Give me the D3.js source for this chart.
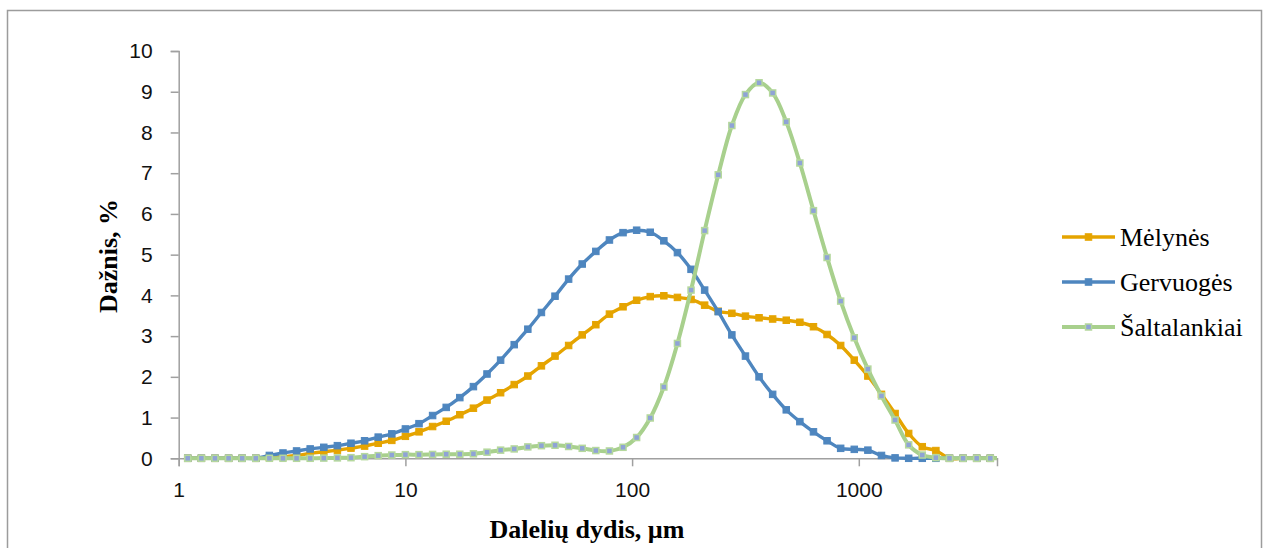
<!DOCTYPE html>
<html>
<head>
<meta charset="utf-8">
<script src="https://cdn.jsdelivr.net/npm/d3@7"></script>
<style>
  html, body { margin: 0; padding: 0; background: #fff; }
  svg { display: block; }
</style>
</head>
<body>
<svg id="chart" width="1269" height="548"></svg>
<script>
// Particle size classes (µm)
const sizes = [1.096, 1.259, 1.445, 1.660, 1.905, 2.188, 2.512, 2.884, 3.311, 3.802,
  4.365, 5.012, 5.754, 6.607, 7.586, 8.710, 10.000, 11.482, 13.183, 15.136,
  17.378, 19.953, 22.909, 26.303, 30.200, 34.674, 39.811, 45.709, 52.481, 60.256,
  69.183, 79.433, 91.201, 104.713, 120.226, 138.038, 158.489, 181.970, 208.930, 239.883,
  275.423, 316.228, 363.078, 416.869, 478.630, 549.541, 630.957, 724.436, 831.764, 954.993,
  1096.478, 1258.925, 1445.440, 1659.587, 1905.461, 2187.762, 2511.886, 2884.032, 3311.311, 3801.894,
  4365.158];

const melynes = [0, 0, 0, 0, 0, 0,
  0.02, 0.04, 0.07, 0.12, 0.16, 0.2, 0.25, 0.3, 0.37, 0.44,
  0.54, 0.65, 0.78, 0.91, 1.07, 1.23, 1.43, 1.61, 1.81, 2.02,
  2.27, 2.51, 2.77, 3.03, 3.28, 3.54, 3.72, 3.88, 3.97, 3.99,
  3.95, 3.90, 3.76, 3.61, 3.56, 3.49, 3.45, 3.42, 3.39, 3.34,
  3.23, 3.04, 2.77, 2.41, 2.02, 1.57, 1.10, 0.61, 0.285, 0.19,
  0, 0, 0, 0, 0];

const gervuoges = [0, 0, 0, 0, 0, 0,
  0.07, 0.13, 0.18, 0.23, 0.27, 0.31, 0.37, 0.43, 0.52, 0.6,
  0.72, 0.85, 1.05, 1.25, 1.49, 1.76, 2.07, 2.41, 2.79, 3.17,
  3.58, 3.98, 4.4, 4.77, 5.08, 5.36, 5.54, 5.60, 5.55, 5.34,
  5.05, 4.64, 4.13, 3.60, 3.03, 2.51, 2.00, 1.57, 1.19, 0.90,
  0.65, 0.43, 0.245, 0.22, 0.20, 0.07, 0.01, 0, 0, 0,
  0, 0, 0, 0, 0];

const saltalankiai = [0, 0, 0, 0, 0, 0, 0, 0, 0, 0,
  0.005, 0.01, 0.015, 0.04, 0.065, 0.08, 0.09, 0.09, 0.095, 0.1,
  0.1, 0.11, 0.15, 0.2, 0.23, 0.28, 0.31, 0.32, 0.29, 0.245,
  0.19, 0.18, 0.27, 0.51, 0.99, 1.75, 2.82, 4.13, 5.59, 6.96,
  8.17, 8.93, 9.22, 8.97, 8.26, 7.25, 6.08, 4.93, 3.86, 2.96,
  2.19, 1.53, 0.94, 0.33, 0.08, 0.015, 0, 0, 0, 0,
  0];

const seriesNames = ["Mėlynės", "Gervuogės", "Šaltalankiai"];
const xTicks = [1, 10, 100, 1000];
const yTicks = [0, 1, 2, 3, 4, 5, 6, 7, 8, 9, 10];
const xDomain = [1, 4070];
const yDomain = [0, 10];
const xTitle = "Dalelių dydis, µm";
const yTitle = "Dažnis, %";

const styles = [
  { line: "#E5A400", mFill: "#E5A400", mStroke: "#E5A400", lw: 3.4, ms: 6.5 },
  { line: "#4E86BF", mFill: "#4E86BF", mStroke: "#4E86BF", lw: 3.4, ms: 6.5 },
  { line: "#A8D08D", mFill: "#8FA3D6", mStroke: "#B5D89D", lw: 4, ms: 6 }
];
const seriesData = [melynes, gervuoges, saltalankiai];

const svg = d3.select("#chart");
const pLeft = 178.7, pRight = 997, pTop = 51, pBottom = 458.3;

const x = d3.scaleLog().domain(xDomain).range([pLeft, pRight]);
const y = d3.scaleLinear().domain(yDomain).range([pBottom, pTop]);

// outer chart border
svg.append("rect")
  .attr("x", 7.5).attr("y", 10.5).attr("width", 1254).attr("height", 600)
  .attr("fill", "none").attr("stroke", "#9c9c9c").attr("stroke-width", 1.5);

const axisColor = "#a0a0a0";
const tickFont = "'Liberation Sans', Arial, sans-serif";

// Y axis
const yAxis = svg.append("g").attr("transform", `translate(${pLeft},0)`)
  .call(d3.axisLeft(y).tickValues(yTicks).tickSize(8).tickPadding(18).tickFormat(d3.format("d")));
yAxis.select(".domain").attr("stroke", axisColor).attr("stroke-width", 1.5);
yAxis.selectAll(".tick line").attr("stroke", axisColor).attr("stroke-width", 1.5);
yAxis.selectAll(".tick text")
  .attr("font-family", tickFont).attr("font-size", 21).attr("fill", "#111");

// X axis
const xAxis = svg.append("g").attr("transform", `translate(0,${pBottom})`)
  .call(d3.axisBottom(x).tickValues(xTicks).tickSize(8).tickPadding(16).tickFormat(d3.format("d")));
xAxis.select(".domain").attr("stroke", axisColor).attr("stroke-width", 1.5);
xAxis.selectAll(".tick line").attr("stroke", axisColor).attr("stroke-width", 1.5);
xAxis.selectAll(".tick text")
  .attr("font-family", tickFont).attr("font-size", 21).attr("fill", "#111");

// clip
svg.append("clipPath").attr("id", "plotclip")
  .append("rect").attr("x", pLeft - 10).attr("y", pTop - 20)
  .attr("width", pRight - pLeft + 10).attr("height", pBottom - pTop + 30);

const plot = svg.append("g").attr("clip-path", "url(#plotclip)");

const line = d3.line()
  .x(d => x(d[0])).y(d => y(d[1]))
  .curve(d3.curveCatmullRom.alpha(0.5));

seriesData.forEach((vals, i) => {
  const pts = sizes.map((s, k) => [s, vals[k]]);
  const st = styles[i];
  plot.append("path").datum(pts)
    .attr("d", line).attr("fill", "none")
    .attr("stroke", st.line).attr("stroke-width", st.lw)
    .attr("stroke-linejoin", "round");
  plot.selectAll(null).data(pts.filter(p => p[0] <= xDomain[1]))
    .enter().append("rect")
    .attr("x", d => x(d[0]) - st.ms / 2).attr("y", d => y(d[1]) - st.ms / 2)
    .attr("width", st.ms).attr("height", st.ms)
    .attr("fill", st.mFill).attr("stroke", st.mStroke).attr("stroke-width", i === 2 ? 1.5 : 1);
});

// Legend
const legendY = [237, 282, 327];
seriesNames.forEach((name, i) => {
  const st = styles[i];
  const g = svg.append("g").attr("transform", `translate(0,${legendY[i]})`);
  g.append("line").attr("x1", 1062).attr("x2", 1115).attr("y1", 0).attr("y2", 0)
    .attr("stroke", st.line).attr("stroke-width", st.lw);
  g.append("rect").attr("x", 1088.5 - st.ms / 2).attr("y", -st.ms / 2)
    .attr("width", st.ms).attr("height", st.ms)
    .attr("fill", st.mFill).attr("stroke", st.mStroke).attr("stroke-width", i === 2 ? 1.5 : 1);
  g.append("text").attr("x", 1120).attr("y", 9)
    .attr("font-family", "'Liberation Serif', 'Times New Roman', serif")
    .attr("font-size", 26).attr("fill", "#000").text(name);
});

// Axis titles
svg.append("text").attr("x", 587).attr("y", 538).attr("text-anchor", "middle")
  .attr("font-family", "'Liberation Serif', 'Times New Roman', serif")
  .attr("font-weight", "bold").attr("font-size", 26).attr("fill", "#000").text(xTitle);

svg.append("text").attr("transform", "translate(117,256) rotate(-90)")
  .attr("text-anchor", "middle")
  .attr("font-family", "'Liberation Serif', 'Times New Roman', serif")
  .attr("font-weight", "bold").attr("font-size", 26).attr("fill", "#000").text(yTitle);
</script>
</body>
</html>
